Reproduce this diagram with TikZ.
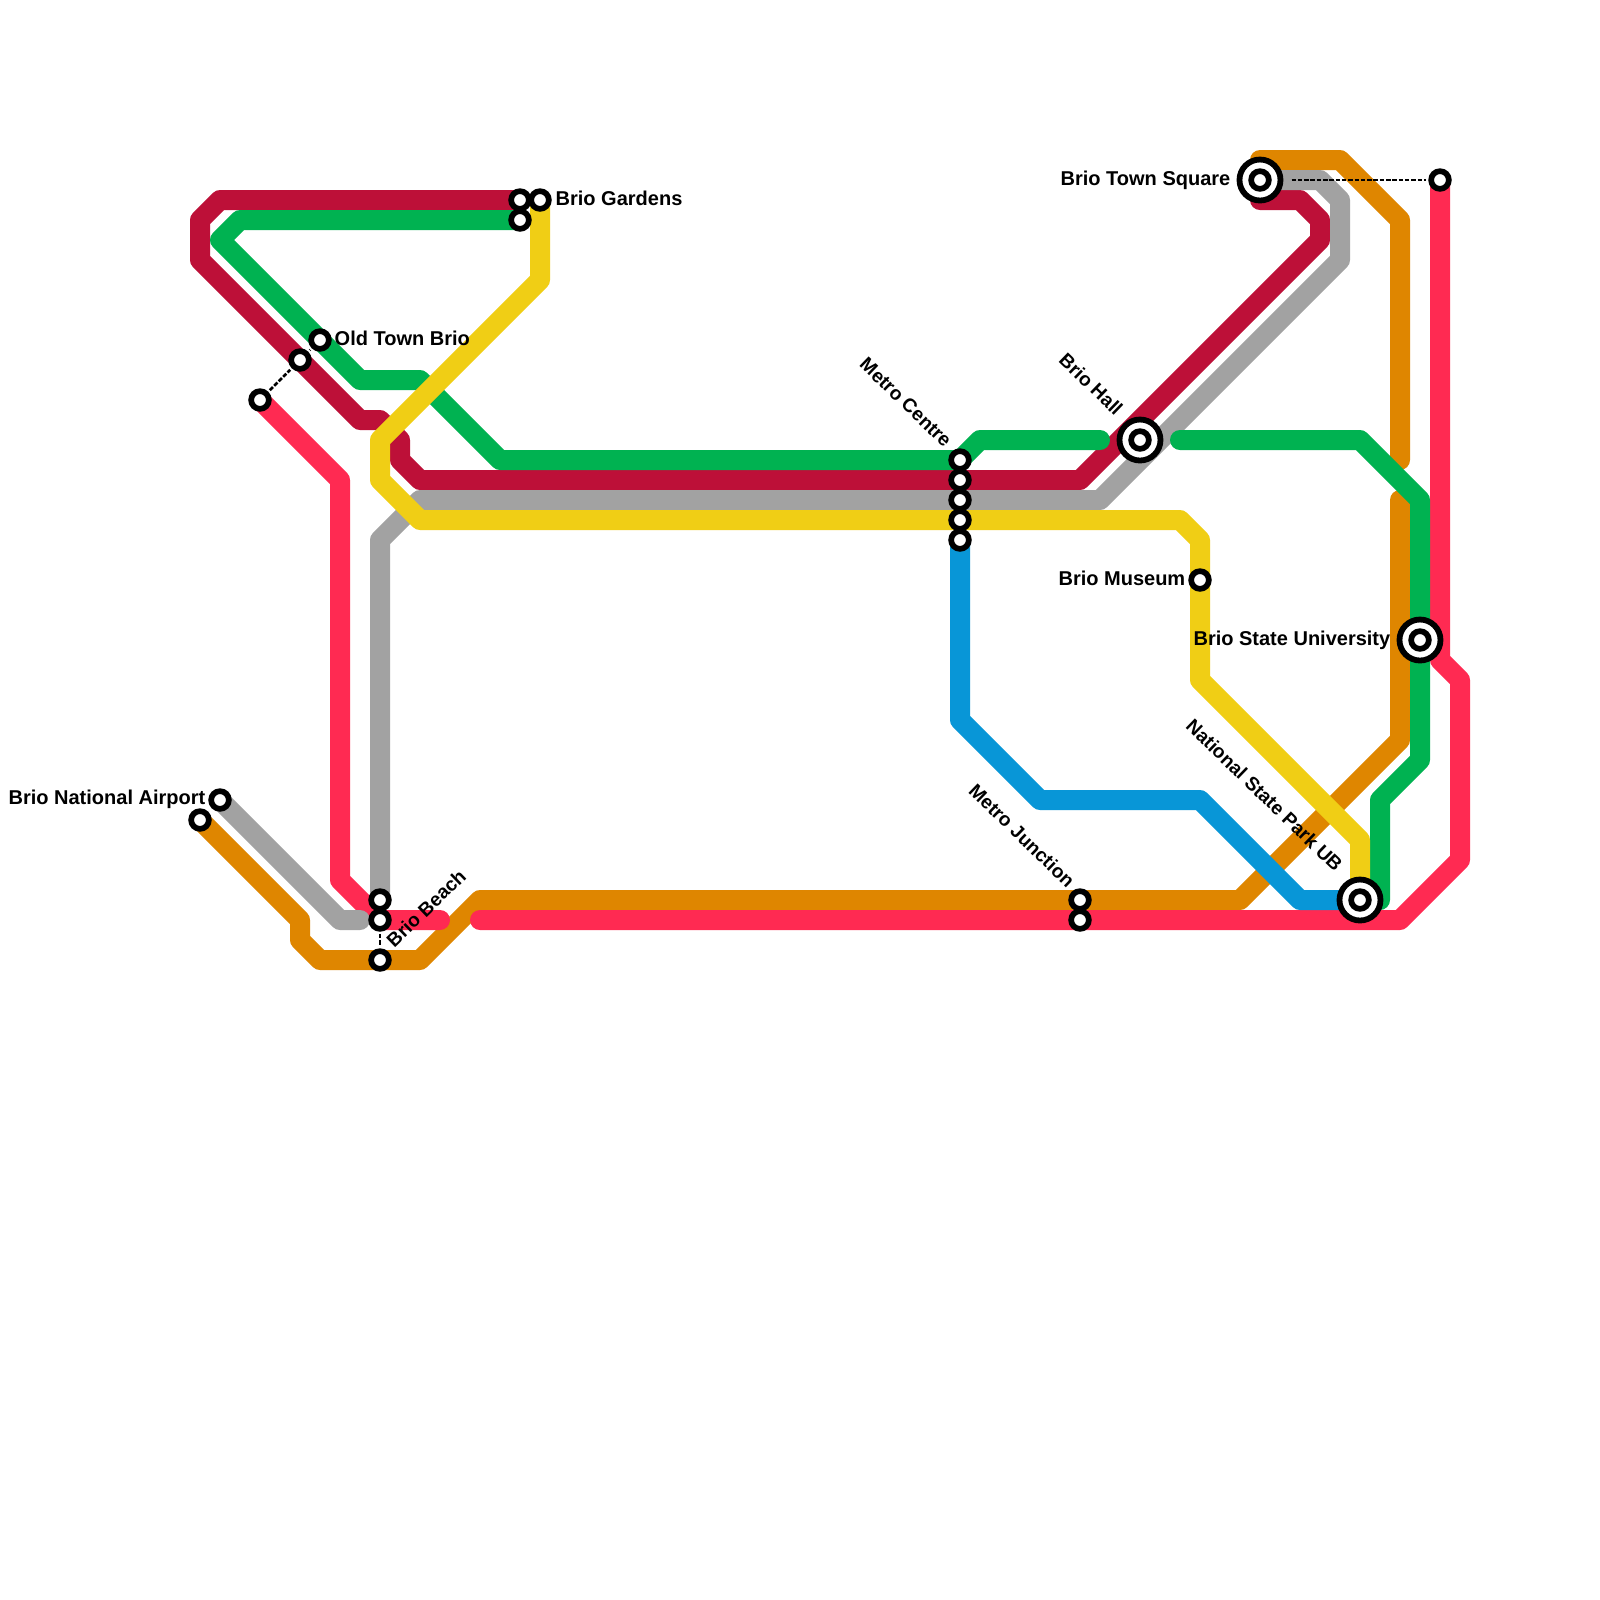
\documentclass[tikz,border=0pt]{standalone}
\usepackage{fontspec}
\setmainfont{Liberation Sans}
\definecolor{crimsonline}{HTML}{BD1038}
\definecolor{greenline}{HTML}{00B251}
\definecolor{silverline}{HTML}{A2A2A2}
\definecolor{yellowline}{HTML}{F0CE15}
\definecolor{orangeline}{HTML}{DF8600}
\definecolor{redline}{HTML}{FF2A52}
\definecolor{blueline}{HTML}{0896D7}
\tikzset{
 metro/.style={line width=.2cm,line cap=round,line join=round},
 stop/.style={circle,draw=black,fill=white,line width=.057cm,minimum size=.177cm,inner sep=0pt,outer sep=0pt},
 hub/.style={circle,draw=black,fill=white,line width=.058cm,minimum size=.41cm,inner sep=0pt,outer sep=0pt},
 stoplabel/.style={font=\bfseries\fontsize{5.69}{6.5}\selectfont,inner sep=0pt},
 slantlabel/.style={font=\bfseries\fontsize{5.47}{6.5}\selectfont,inner sep=0pt},
 walk/.style={black,line width=.025cm,dash pattern=on .045cm off .018cm,shorten <=.05cm,shorten >=.05cm},
}
\begin{document}
\begin{tikzpicture}[x=.2cm,y=-.2cm]
\useasboundingbox (0,0) rectangle (80,80);
\fill[white] (0,0) rectangle (80,80);
% lines, lowest first
\draw[metro,orangeline] (10,41)--(15,46)--(15,47)--(16,48)--(21,48)--(24,45)--(62,45)--(70,37)--(70,25);
\draw[metro,orangeline] (70,23)--(70,11)--(67,8)--(63,8);
\draw[metro,redline] (13,20)--(17,24)--(17,44)--(19,46)--(22,46);
\draw[metro,redline] (24,46)--(70,46)--(73,43)--(73,34)--(72,33)--(72,9);
\draw[metro,crimsonline] (26,10)--(11,10)--(10,11)--(10,13)--(18,21)--(19,21)--(20,22)--(20,23)--(21,24)--(54,24)--(66,12)--(66,11)--(65,10)--(63,10);
\draw[metro,silverline] (11,40)--(17,46)--(18,46);
\draw[metro,silverline] (19,45)--(19,27)--(21,25)--(55,25)--(67,13)--(67,10)--(66,9)--(63,9);
\draw[metro,greenline] (26,11)--(12,11)--(11,12)--(18,19)--(21,19)--(25,23)--(48,23)--(49,22)--(55,22);
\draw[metro,greenline] (59,22)--(68,22)--(71,25)--(71,38)--(69,40)--(69,45);
\draw[metro,blueline] (48,27)--(48,36)--(52,40)--(60,40)--(65,45)--(68,45);
\draw[metro,yellowline] (27,10)--(27,14)--(19,22)--(19,24)--(21,26)--(59,26)--(60,27)--(60,34)--(68,42)--(68,45);
% stops
\foreach \name/\xx/\yy in {gardens/27/10,gardensa/26/10,gardensb/26/11,
  oldtown/16/17,oldtowna/15/18,oldtownb/13/20,
  airport/11/40,airporta/10/41,
  beachc/19/45,beacha/19/46,beach/19/48,
  metroa/48/23,metrob/48/24,metroc/48/25,metrod/48/26,metroe/48/27,
  junctiona/54/45,junctionb/54/46,museum/60/29,squarelink/72/9}
 \node[stop] (\name) at (\xx,\yy) {};
\foreach \name/\xx/\yy in {square/63/9,hall/57/22,university/71/32,park/68/45} {
 \node[hub] (\name) at (\xx,\yy) {};
 \node[stop] (\name in) at (\xx,\yy) {};
}
% out of station transfers
\draw[walk] (oldtownb)--(oldtowna);
\draw[walk] (oldtowna)--(oldtown);
\draw[walk] (beacha)--(beach);
\draw[walk,shorten <=.11cm] (square)--(squarelink);
% names
\node[stoplabel,anchor=west] (gardenslabel) at (27.75,9.9) {Brio Gardens};
\node[stoplabel,anchor=west] (oldtownlabel) at (16.7,16.9) {Old Town Brio};
\node[stoplabel,anchor=east] (airportlabel) at (10.3,39.95) {Brio National Airport};
\node[stoplabel,anchor=east] (squarelabel) at (61.55,9) {Brio Town Square};
\node[stoplabel,anchor=east] (museumlabel) at (59.3,28.9) {Brio Museum};
\node[stoplabel,anchor=east] (universitylabel) at (69.55,32) {Brio State University};
\node[slantlabel,anchor=west,rotate=44] (beachlabel) at (19.45,47.2) {Brio Beach};
\node[slantlabel,anchor=east,rotate=-44] (metrolabel) at (47.45,22.2) {Metro Centre};
\node[slantlabel,anchor=east,rotate=-44] (halllabel) at (56,20.6) {Brio Hall};
\node[slantlabel,anchor=east,rotate=-44] (junctionlabel) at (53.6,44.2) {Metro Junction};
\node[slantlabel,anchor=east,rotate=-44] (parklabel) at (67,43.4) {National State Park UB};
\end{tikzpicture}
\end{document}
